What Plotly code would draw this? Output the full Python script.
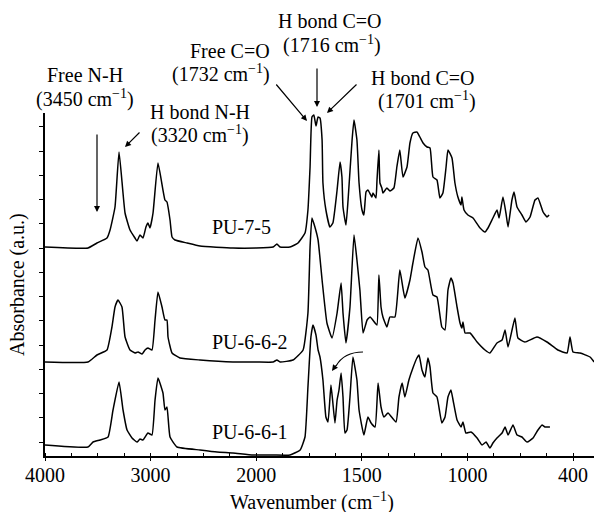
import plotly.graph_objects as go

# ---- data: (wavenumber cm-1, absorbance above own baseline, a.u.) ----
pu_7_5 = [(4000,0.0),(3593,-0.01),(3508,0.04),(3413,0.09),(3384,0.17),(3337,0.40),(3299,0.95),(3242,0.34),
          (3195,0.17),(3148,0.09),(3129,0.06),(3100,0.12),(3072,0.09),(3044,0.20),(3025,0.24),(3006,0.19),
          (2977,0.34),(2930,0.84),(2864,0.47),(2845,0.45),(2816,0.27),(2797,0.10),(2769,0.07),(2655,0.04),
          (2532,0.01),(2220,-0.01),(2000,-0.01),(1920,0.0),(1902,0.03),(1887,0.0),(1840,0.0),(1802,0.04),
          (1769,0.14),(1755,0.37),(1745,0.80),(1736,1.30),(1727,1.32),(1717,1.21),(1707,1.30),(1698,1.29),
          (1688,1.07),(1684,0.64),(1670,0.37),(1651,0.20),(1637,0.24),(1617,0.57),(1603,0.85),(1594,0.70),
          (1589,0.40),(1575,0.22),(1565,0.47),(1546,1.07),(1537,1.27),(1523,1.07),(1513,0.64),(1499,0.37),
          (1490,0.32),(1480,0.55),(1471,0.57),(1452,0.50),(1447,0.54),(1433,0.49),(1428,0.67),(1419,0.97),
          (1414,0.64),(1405,0.59),(1400,0.54),(1381,0.59),(1367,0.56),(1348,0.59),(1334,0.80),(1320,0.97),
          (1305,0.70),(1286,0.80),(1272,1.04),(1258,1.14),(1239,1.15),(1225,1.10),(1210,1.04),(1191,1.00),
          (1177,0.99),(1163,0.70),(1144,0.67),(1130,0.49),(1116,0.54),(1101,0.80),(1092,0.97),(1073,0.89),
          (1059,0.64),(1045,0.50),(1030,0.42),(1026,0.50),(1016,0.37),(997,0.32),(968,0.29),(928,0.19),
          (900,0.15),(883,0.19),(855,0.29),(832,0.37),(820,0.29),(798,0.50),(781,0.34),(769,0.20),
          (747,0.47),(735,0.55),(718,0.40),(690,0.32),(667,0.25),(644,0.30),(616,0.47),(599,0.49),
          (570,0.35),(548,0.30),(536,0.32)]

pu_6_6_2 = [(4000,0.0),(3593,0.0),(3508,0.07),(3413,0.12),(3366,0.35),(3337,0.55),(3309,0.62),(3271,0.55),
            (3242,0.25),(3195,0.12),(3148,0.09),(3119,0.10),(3081,0.08),(3053,0.12),(3025,0.14),(2987,0.12),
            (2958,0.42),(2930,0.70),(2892,0.55),(2864,0.42),(2845,0.42),(2835,0.25),(2797,0.09),(2722,0.04),
            (2532,0.02),(2220,0.0),(2000,0.0),(1920,0.0),(1902,0.02),(1887,0.0),(1826,0.02),(1778,0.12),
            (1755,0.49),(1745,1.15),(1736,1.44),(1722,1.35),(1707,1.22),(1688,0.82),(1665,0.39),(1641,0.24),
            (1617,0.49),(1598,0.79),(1589,0.49),(1575,0.19),(1556,0.55),(1537,1.27),(1523,1.02),(1509,0.72),
            (1494,0.29),(1475,0.42),(1461,0.45),(1437,0.39),(1428,0.37),(1419,0.87),(1409,0.55),(1400,0.45),
            (1381,0.35),(1367,0.45),(1343,0.45),(1320,0.92),(1296,0.64),(1272,0.82),(1258,0.99),(1234,1.24),
            (1215,1.10),(1201,0.95),(1187,0.92),(1163,0.67),(1144,0.65),(1121,0.35),(1106,0.32),(1092,0.72),
            (1078,0.84),(1068,0.79),(1049,0.55),(1035,0.39),(1026,0.34),(1021,0.40),(1011,0.29),(985,0.29),
            (945,0.20),(900,0.12),(872,0.09),(832,0.19),(803,0.22),(786,0.32),(769,0.15),(730,0.44),
            (713,0.24),(673,0.20),(605,0.25),(548,0.20),(486,0.12),(434,0.09),(417,0.25),(400,0.10),
            (360,0.09),(303,0.05),(280,0.0)]

pu_6_6_1 = [(4000,0.0),(3593,-0.02),(3545,0.03),(3479,0.05),(3403,0.08),(3356,0.35),(3299,0.63),(3261,0.35),
            (3223,0.15),(3176,0.07),(3129,0.03),(3100,0.06),(3072,0.05),(3025,0.12),(2987,0.10),(2958,0.45),
            (2930,0.67),(2883,0.52),(2864,0.35),(2845,0.38),(2816,0.08),(2750,-0.02),(2532,-0.05),(2371,-0.07),
            (2220,-0.08),(2030,-0.10),(1920,-0.10),(1840,-0.10),(1792,-0.05),(1769,0.08),(1755,0.58),(1741,1.08),
            (1731,1.20),(1717,1.10),(1707,0.95),(1698,0.88),(1684,0.65),(1670,0.28),(1660,0.23),(1646,0.60),
            (1637,0.42),(1627,0.22),(1617,0.45),(1608,0.55),(1598,0.72),(1589,0.48),(1580,0.12),(1570,0.15),
            (1556,0.48),(1542,0.88),(1523,0.65),(1513,0.35),(1490,0.10),(1471,0.28),(1456,0.22),(1437,0.18),
            (1423,0.62),(1409,0.38),(1395,0.28),(1376,0.32),(1338,0.23),(1324,0.48),(1309,0.62),(1296,0.48),
            (1277,0.65),(1258,0.77),(1239,0.87),(1229,0.90),(1215,0.75),(1201,0.68),(1187,0.87),(1177,0.78),
            (1163,0.52),(1144,0.48),(1121,0.22),(1106,0.28),(1092,0.48),(1078,0.55),(1068,0.45),(1049,0.25),
            (1030,0.18),(1021,0.23),(1007,0.12),(980,0.13),(945,0.07),(917,0.0),(894,0.03),(872,-0.03),
            (855,0.02),(832,0.07),(803,0.12),(786,0.18),(769,0.10),(741,0.20),(718,0.10),(690,0.08),
            (661,0.03),(627,0.07),(599,0.15),(576,0.20),(559,0.18),(531,0.18)]

series_names = ["PU-7-5", "PU-6-6-2", "PU-6-6-1"]
series_offsets = [2.09, 0.94, 0.11]
tick_wavenumbers = [4000, 3000, 2000, 1500, 1000, 400]
tick_labels = ["4000", "3000", "2000", "1500", "1000", "400"]


# broken (piecewise-linear) wavenumber axis
def to_axis(w):
    if w >= 2000:
        return (4000 - w) / 1000.0
    if w >= 1000:
        return 2 + (2000 - w) / 500.0
    return 4 + (1000 - w) / 600.0


W, H = 594, 512
L, R, T, B = 45, 0, 113, 56
PW, PH = W - L - R, H - T - B
FONT = "Liberation Serif"


def P(px, py):
    return (px - L) / PW, (H - B - py) / PH


fig = go.Figure()
for name, data, off in zip(series_names, [pu_7_5, pu_6_6_2, pu_6_6_1], series_offsets):
    fig.add_trace(go.Scatter(
        x=[to_axis(w) for w, a in data],
        y=[a + off for w, a in data],
        mode="lines", name=name,
        line=dict(color="black", width=1.5, shape="spline", smoothing=0.4),
        showlegend=False, hoverinfo="skip"))

ann = []


def text(px, py, s, xa="center", size=20):
    x, y = P(px, py)
    ann.append(dict(x=x, y=y, xref="paper", yref="paper", text=s, showarrow=False,
                    xanchor=xa, yanchor="middle", font=dict(family=FONT, size=size, color="black")))


def arrow(hx, hy, tx, ty, head=2):
    x, y = P(hx, hy)
    ann.append(dict(x=x, y=y, xref="paper", yref="paper", text="", showarrow=True,
                    ax=tx - hx, ay=ty - hy, arrowhead=head, arrowsize=1, arrowwidth=1.2,
                    arrowcolor="black"))


cm = "cm<sup>\u22121</sup>"
text(85, 75, "Free N-H")
text(85, 98, "(3450 " + cm + ")")
text(200, 112, "H bond N-H")
text(200, 134, "(3320 " + cm + ")")
text(272, 51, "Free C=O", xa="right")
text(272, 73, "(1732 " + cm + ")", xa="right")
text(330, 21, "H bond C=O")
text(332, 45, "(1716 " + cm + ")")
text(423, 78, "H bond C=O")
text(427, 100, "(1701 " + cm + ")")
text(210, 227, "PU-7-5", xa="left")
text(210, 342, "PU-6-6-2", xa="left")
text(210, 432, "PU-6-6-1", xa="left")
text(312, 501, "Wavenumber (" + cm + ")")

x, y = P(17, 285)
ann.append(dict(x=x, y=y, xref="paper", yref="paper", text="Absorbance (a.u.)", showarrow=False,
                textangle=-90, xanchor="center", yanchor="middle",
                font=dict(family=FONT, size=20, color="black")))

arrow(97, 212, 97, 133)
arrow(125, 147, 141, 131)
arrow(307, 121, 275, 83)
arrow(317, 107, 317, 67)
arrow(327, 113, 358, 83)
arrow(332, 371, 337, 364)

x0, y0 = P(363, 352)
cx, cy = P(344, 352)
x1, y1 = P(336, 366)
shapes = [dict(type="path", xref="paper", yref="paper",
               path=f"M {x0},{y0} Q {cx},{cy} {x1},{y1}",
               line=dict(color="black", width=1.2))]

fig.update_layout(
    width=W, height=H,
    margin=dict(l=L, r=R, t=T, b=B, pad=0),
    paper_bgcolor="white", plot_bgcolor="white",
    annotations=ann, shapes=shapes,
    xaxis=dict(range=[0, PW / 105.6], tickmode="array",
               tickvals=[to_axis(w) for w in tick_wavenumbers], ticktext=tick_labels,
               showline=True, linecolor="black", linewidth=1.5, ticks="outside", ticklen=3,
               tickcolor="black", showgrid=False, zeroline=False, ticklabelstandoff=-3,
               tickfont=dict(family=FONT, size=20, color="black"),
               minor=dict(ticks="inside", ticklen=3, dtick=0.25, tick0=0, tickcolor="black", showgrid=False)),
    yaxis=dict(range=[0, PH / 100.0], showline=True, linecolor="black", linewidth=1.5,
               ticks="outside", ticklen=4, tickcolor="black", tick0=0.14, dtick=0.2425,
               showticklabels=False, showgrid=False, zeroline=False),
)

fig.write_html("out.html")
